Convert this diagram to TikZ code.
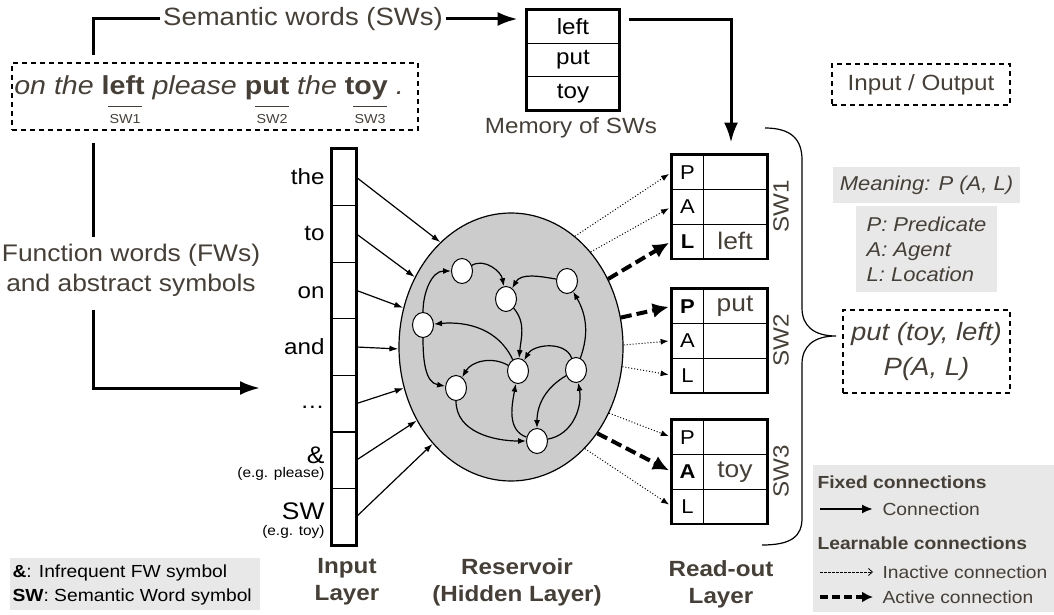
\documentclass[tikz,border=0pt]{standalone}
\usepackage{fontspec}
\setmainfont{Liberation Sans}[FakeStretch=1.1]
\usetikzlibrary{arrows.meta,shapes.geometric}
\definecolor{txt}{HTML}{453F38}
\definecolor{resgray}{HTML}{CCCCCC}
\definecolor{boxgray}{HTML}{E8E8E8}
\newcommand{\fsz}[2]{\fontsize{#1}{#2}\selectfont}
\tikzset{%
    cell/.style={draw=black,line width=0.8pt,minimum width=24pt,minimum height=56.6pt,inner sep=0pt}
}

\begin{document}
\begin{tikzpicture}[x=1pt,y=-1pt,
        lcell/.style={draw=black,line width=0.8pt,minimum width=31pt,minimum height=34.5pt,inner sep=0pt,font=\fsz{20}{20}},
        rcell/.style={draw=black,line width=0.8pt,minimum width=64pt,minimum height=34.5pt,inner sep=0pt,text=txt,font=\fsz{24}{24}},
        mcell/.style={draw=black,line width=0.8pt,minimum width=92pt,minimum height=33.3pt,inner sep=0pt,font=\fsz{22}{22}},
        neuron/.style={ellipse,draw=black,line width=1pt,fill=white,minimum width=21pt,minimum height=25pt,inner sep=0pt},
        edge/.style={line width=1.2pt,-{Latex[length=8pt,width=6pt]}},
        inarr/.style={line width=1.2pt,-{Latex[length=9pt,width=6pt]}},
        flow/.style={line width=3pt},
        flowarr/.style={line width=3pt,-{Latex[length=20pt,width=14pt]}},
        inact/.style={line width=1pt,dotted,shorten >=3pt,-{Latex[length=8pt,width=6pt]}},
        act/.style={line width=4pt,dash pattern=on 11pt off 5pt,shorten >=3pt,-{Latex[length=16pt,width=15pt]}},
        iobox/.style={draw=black,line width=2pt,dash pattern=on 5pt off 4pt},
        graybox/.style={fill=boxgray},
        lbl/.style={text=txt}
        ]
        \useasboundingbox (0,0) rectangle (1054,615);

        % sentence and semantic words
        \node[iobox,minimum width=406pt,minimum height=67pt] (sent) at (215,96.5) {};
        \node[lbl,font=\fsz{26}{26}] (words) at (209,88) {\textit{on the} \textbf{left} \textit{please} \textbf{put} \textit{the} \textbf{toy} \textit{.}};
        \node[lbl,font=\fsz{13}{13},inner sep=1pt] (sw1) at (125,119) {SW1};
        \node[lbl,font=\fsz{13}{13},inner sep=1pt] (sw2) at (272,119) {SW2};
        \node[lbl,font=\fsz{13}{13},inner sep=1pt] (sw3) at (370,119) {SW3};
        \draw[txt,line width=1.2pt] ([yshift=7pt]sw1.north west) -- ([yshift=7pt]sw1.north east);
        \draw[txt,line width=1.2pt] ([yshift=7pt]sw2.north west) -- ([yshift=7pt]sw2.north east);
        \draw[txt,line width=1.2pt] ([yshift=7pt]sw3.north west) -- ([yshift=7pt]sw3.north east);

        \node[lbl,font=\fsz{25}{25}] (sem) at (303,19) {Semantic words (SWs)};
        \coordinate (swup) at (93,55);
        \draw[flow] (swup) |- (sem.west);

        % memory of SWs
        \node[mcell] (m1) at (573,26.7) {left};
        \node[mcell] (m2) at (573,60) {put};
        \node[mcell] (m3) at (573,93.3) {toy};
        \draw[line width=2.5pt] (m1.north west) rectangle (m3.south east);
        \node[lbl,font=\fsz{22}{22}] (memlbl) at (571,128) {Memory of SWs};
        \draw[flowarr,shorten >=9pt] (sem.east) -- (m1.west |- sem.east);

        % function words
        \node[lbl,font=\fsz{24}{30},align=center] (fw) at (131,270) {Function words (FWs)\\and abstract symbols};
        \coordinate (fwtop) at (93,143);
        \coordinate (fwmid) at (93,237);
        \coordinate (fwbot) at (93,310);
        \coordinate (fwend) at (260,388);
        \draw[flow] (fwtop) -- (fwmid);
        \draw[flowarr] (fwbot) |- (fwend);

        % input layer
        \node[cell] (in1) at (344,177.3) {};
        \node[cell] (in2) at (344,233.9) {};
        \node[cell] (in3) at (344,290.4) {};
        \node[cell] (in4) at (344,347) {};
        \node[cell] (in5) at (344,403.6) {};
        \node[cell] (in6) at (344,460.1) {};
        \node[cell] (in7) at (344,516.7) {};
        \draw[line width=2.5pt] (in1.north west) rectangle (in7.south east);
        \node[font=\fsz{22}{22},anchor=east] (l1) at (328,177) {the};
        \node[font=\fsz{22}{22},anchor=east] (l2) at (328,233) {to};
        \node[font=\fsz{22}{22},anchor=east] (l3) at (328,293) {on};
        \node[font=\fsz{22}{22},anchor=east] (l4) at (328,347) {and};
        \node[font=\fsz{22}{22},anchor=east] (l5) at (328,407) {\ldots};
        \node[font=\fsz{24}{24},anchor=east] (l6) at (328,455) {\&};
        \node[font=\fsz{14}{14},anchor=east] (l6b) at (328,474) {(e.g. please)};
        \node[font=\fsz{24}{24},anchor=east] (l7) at (328,511) {SW};
        \node[font=\fsz{14}{14},anchor=east] (l7b) at (328,532) {(e.g. toy)};

        % reservoir
        \node[ellipse,draw=black,line width=1.2pt,fill=resgray,minimum width=224pt,minimum height=268pt,inner sep=0pt] (res) at (511,347) {};
        \draw[inarr] (in1.east) -- (res.124);
        \draw[inarr] (in2.east) -- (res.144);
        \draw[inarr] (in3.east) -- (res.160);
        \draw[inarr] (in4.east) -- (res.181);
        \draw[inarr] (in5.east) -- (res.201);
        \draw[inarr] (in6.east) -- (res.218);
        \draw[inarr] (in7.east) -- (res.231);

        \node[neuron] (n1) at (462,271) {};
        \node[neuron] (n2) at (506,299) {};
        \node[neuron] (n3) at (567,281) {};
        \node[neuron] (n4) at (423,325) {};
        \node[neuron] (n5) at (518,371) {};
        \node[neuron] (n6) at (576,370) {};
        \node[neuron] (n7) at (456,388) {};
        \node[neuron] (n8) at (537,441) {};

        \draw[edge] (n1) to[out=30,in=100] (n2);
        \draw[edge] (n4) to[out=90,in=180] (n1);
        \draw[edge] (n3) to[out=170,in=60] (n2);
        \draw[edge] (n2) to[out=-50,in=85] (n5);
        \draw[edge] (n5) to[out=115,in=5] (n4);
        \draw[edge] (n4) to[out=-90,in=170] (n7);
        \draw[edge] (n5) to[out=150,in=60] (n7);
        \draw[edge] (n6) to[out=110,in=60] (n5);
        \draw[edge] (n6) to[out=70,in=-60] (n3);
        \draw[edge] (n6) to[out=210,in=90] (n8);
        \draw[edge] (n8) to[out=10,in=-80] (n6);
        \draw[edge] (n8) to[out=160,in=-100] (n5);
        \draw[edge] (n7) to[out=-90,in=180] (n8);

        % read-out layer
        \node[lcell] (r1P) at (687.5,172.25) {P};
        \node[rcell] (r1Pv) at (735,172.25) {};
        \node[lcell] (r1A) at (687.5,206.75) {A};
        \node[rcell] (r1Av) at (735,206.75) {};
        \node[lcell] (r1L) at (687.5,241.25) {\textbf{L}};
        \node[rcell] (r1Lv) at (735,241.25) {left};
        \draw[line width=2.5pt] (r1P.north west) rectangle (r1Lv.south east);

        \node[lcell] (r2P) at (687.5,306.25) {\textbf{P}};
        \node[rcell] (r2Pv) at (735,306.25) {put};
        \node[lcell] (r2A) at (687.5,340.75) {A};
        \node[rcell] (r2Av) at (735,340.75) {};
        \node[lcell] (r2L) at (687.5,375.25) {L};
        \node[rcell] (r2Lv) at (735,375.25) {};
        \draw[line width=2.5pt] (r2P.north west) rectangle (r2Lv.south east);

        \node[lcell] (r3P) at (687.5,437.25) {P};
        \node[rcell] (r3Pv) at (735,437.25) {};
        \node[lcell] (r3A) at (687.5,471.75) {\textbf{A}};
        \node[rcell] (r3Av) at (735,471.75) {toy};
        \node[lcell] (r3L) at (687.5,506.25) {L};
        \node[rcell] (r3Lv) at (735,506.25) {};
        \draw[line width=2.5pt] (r3P.north west) rectangle (r3Lv.south east);

        \node[lbl,rotate=90,font=\fsz{22}{22}] (sw1r) at (781,206.75) {SW1};
        \node[lbl,rotate=90,font=\fsz{22}{22}] (sw2r) at (781,340.75) {SW2};
        \node[lbl,rotate=90,font=\fsz{22}{22}] (sw3r) at (781,471.75) {SW3};

        \draw[flowarr] ([xshift=10pt,yshift=-10pt]m1.north east) -| ([xshift=-4pt,yshift=12pt]r1Pv.north);

        \draw[inact] (res.60) -- (r1P.west);
        \draw[inact] (res.50) -- (r1A.west);
        \draw[act] (res.35) -- (r1L.west);
        \draw[act] (res.15) -- (r2P.west);
        \draw[inact] (res.1) -- (r2A.west);
        \draw[inact] (res.-10) -- (r2L.west);
        \draw[inact] (res.-34) -- (r3P.west);
        \draw[act] (res.-45) -- (r3A.west);
        \draw[inact] (res.-54) -- (r3L.west);

        % brace
        \draw[line width=1.2pt] (765,128) .. controls (792,128) and (802,140) .. (802,160) -- (802,308)
            .. controls (802,326) and (814,336) .. (836,336) .. controls (814,336) and (802,346) .. (802,364)
            -- (802,518) .. controls (802,536) and (792,545) .. (762,545);

        % meaning
        \node[iobox,lbl,font=\fsz{22}{22},minimum width=178pt,minimum height=41pt] (io) at (921,84.5) {Input / Output};
        \node[graybox,lbl,font=\fsz{20}{20}\itshape,minimum width=187pt,minimum height=36pt] (mean) at (926.5,185) {Meaning: P (A, L)};
        \node[graybox,lbl,font=\fsz{20}{25}\itshape,minimum width=141pt,minimum height=86pt,align=left] (roles) at (926.5,249) {P: Predicate\\A: Agent\\L: Location};
        \node[iobox,lbl,font=\fsz{25}{35}\itshape,minimum width=167pt,minimum height=83pt,align=center] (outp) at (926.5,351.5) {put (toy, left)\\P(A, L)};

        % legend
        \node[graybox,minimum width=241pt,minimum height=147pt] (legend) at (933.5,538.5) {};
        \node[lbl,font=\fsz{17.5}{17.5}\bfseries,anchor=west] (fixed) at (814,482) {Fixed connections};
        \node[lbl,font=\fsz{17.5}{17.5},anchor=west] (conn) at (879,509) {Connection};
        \node[lbl,font=\fsz{17.5}{17.5}\bfseries,anchor=west] (learn) at (814,543) {Learnable connections};
        \node[lbl,font=\fsz{17.5}{17.5},anchor=west] (inconn) at (879,572) {Inactive connection};
        \node[lbl,font=\fsz{17.5}{17.5},anchor=west] (acconn) at (879,597) {Active connection};
        \draw[line width=2pt,shorten >=6pt,-{Latex[length=11pt,width=9pt]}] ([xshift=6pt]fixed.west |- conn.west) -- (conn.west);
        \draw[line width=0.8pt,dash pattern=on 2.5pt off 1.5pt,shorten >=6pt,-{Straight Barb[length=4pt,width=7pt]}] ([xshift=6pt]fixed.west |- inconn.west) -- (inconn.west);
        \draw[line width=3.5pt,dash pattern=on 8pt off 4pt,shorten >=6pt,-{Latex[length=11pt,width=11pt]}] ([xshift=6pt]fixed.west |- acconn.west) -- (acconn.west);

        % key
        \node[graybox,minimum width=250pt,minimum height=52pt] (key) at (135,584) {};
        \node[font=\fsz{17.5}{17.5},anchor=west] (k1) at (9,573) {\textbf{\&}: Infrequent FW symbol};
        \node[font=\fsz{17.5}{17.5},anchor=west] (k2) at (9,597) {\textbf{SW}: Semantic Word symbol};

        % layer names
        \node[lbl,font=\fsz{22}{27}\bfseries,align=center] (inlbl) at (347,582) {Input\\Layer};
        \node[lbl,font=\fsz{22}{27}\bfseries,align=center] (reslbl) at (517,582) {Reservoir\\(Hidden Layer)};
        \node[lbl,font=\fsz{22}{27}\bfseries,align=center] (rolbl) at (721,584) {Read-out\\Layer};
    \end{tikzpicture}
\end{document}
